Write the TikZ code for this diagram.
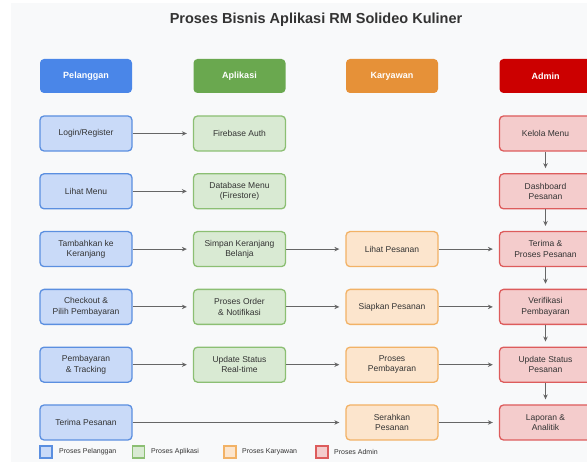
\documentclass[tikz,border=0pt]{standalone}
\usepackage{fontspec}
\setmainfont{Liberation Sans}
\usetikzlibrary{arrows.meta}
\definecolor{bgc}{HTML}{F8F9FA}
\definecolor{txt}{HTML}{333333}
\definecolor{hblue}{HTML}{4A86E8}
\definecolor{hgreen}{HTML}{6AA84F}
\definecolor{horange}{HTML}{E69138}
\definecolor{hred}{HTML}{CC0000}
\definecolor{fblue}{HTML}{C9DAF8}
\definecolor{dblue}{HTML}{5B8FE0}
\definecolor{fgreen}{HTML}{D9EAD3}
\definecolor{dgreen}{HTML}{8CBF73}
\definecolor{forange}{HTML}{FCE5CD}
\definecolor{dorange}{HTML}{F2B266}
\definecolor{fred}{HTML}{F4CCCC}
\definecolor{dred}{HTML}{DD5C5C}
\definecolor{arr}{HTML}{666666}
\tikzset{
  hdr/.style={rounded corners=4pt, minimum width=92pt, minimum height=34pt, text=white,
    font=\fontsize{9}{11}\selectfont\bfseries, inner sep=0pt},
  proc/.style={rounded corners=4pt, minimum width=92pt, minimum height=35pt, text=txt,
    font=\fontsize{8.5}{10.5}\selectfont, align=center, line width=1.3pt, inner sep=0pt},
  pbox/.style={proc, draw=dblue, fill=fblue},
  abox/.style={proc, draw=dgreen, fill=fgreen},
  kbox/.style={proc, draw=dorange, fill=forange},
  rbox/.style={proc, draw=dred, fill=fred},
  conn/.style={draw=arr, line width=1.1pt, -{Stealth[length=5pt,width=4.5pt]}, shorten >=6pt},
  vconn/.style={draw=arr, line width=1.1pt, -{Stealth[length=5pt,width=4.5pt]}, shorten >=5pt},
  lsq/.style={minimum width=12pt, minimum height=12pt, line width=1.2pt, inner sep=0pt},
  ltxt/.style={anchor=west, text=txt, font=\fontsize{7}{8}\selectfont, inner sep=0pt}
}
\begin{document}
\begin{tikzpicture}[x=1pt,y=-1pt]
\useasboundingbox (0,0) rectangle (587,462);
\fill[white] (0,0) rectangle (587,462);
\fill[bgc] (11,3) rectangle (590,465);
\node[text=txt, font=\fontsize{14.5}{16}\selectfont\bfseries] (title) at (316,20) {Proses Bisnis Aplikasi RM Solideo Kuliner};
% headers
\node[hdr, fill=hblue] (h1) at (86,76) {Pelanggan};
\node[hdr, fill=hgreen] (h2) at (239.5,76) {Aplikasi};
\node[hdr, fill=horange] (h3) at (392,76) {Karyawan};
\node[hdr, fill=hred] (h4) at (545.5,76) {Admin};
% Pelanggan
\node[pbox] (p1) at (86,133.5) {Login/Register};
\node[pbox] (p2) at (86,191.3) {Lihat Menu};
\node[pbox] (p3) at (86,249.1) {Tambahkan ke\\Keranjang};
\node[pbox] (p4) at (86,306.9) {Checkout \&\\Pilih Pembayaran};
\node[pbox] (p5) at (86,364.7) {Pembayaran\\\& Tracking};
\node[pbox] (p6) at (86,422.5) {Terima Pesanan};
% Aplikasi
\node[abox] (a1) at (239.5,133.5) {Firebase Auth};
\node[abox] (a2) at (239.5,191.3) {Database Menu\\(Firestore)};
\node[abox] (a3) at (239.5,249.1) {Simpan Keranjang\\Belanja};
\node[abox] (a4) at (239.5,306.9) {Proses Order\\\& Notifikasi};
\node[abox] (a5) at (239.5,364.7) {Update Status\\Real-time};
% Karyawan
\node[kbox] (k3) at (392,249.1) {Lihat Pesanan};
\node[kbox] (k4) at (392,306.9) {Siapkan Pesanan};
\node[kbox] (k5) at (392,364.7) {Proses\\Pembayaran};
\node[kbox] (k6) at (392,422.5) {Serahkan\\Pesanan};
% Admin
\node[rbox] (r1) at (545.5,133.5) {Kelola Menu};
\node[rbox] (r2) at (545.5,191.3) {Dashboard\\Pesanan};
\node[rbox] (r3) at (545.5,249.1) {Terima \&\\Proses Pesanan};
\node[rbox] (r4) at (545.5,306.9) {Verifikasi\\Pembayaran};
\node[rbox] (r5) at (545.5,364.7) {Update Status\\Pesanan};
\node[rbox] (r6) at (545.5,422.5) {Laporan \&\\Analitik};
% horizontal connectors
\draw[conn] (p1) -- (a1);
\draw[conn] (p2) -- (a2);
\draw[conn] (p3) -- (a3);
\draw[conn] (a3) -- (k3);
\draw[conn] (k3) -- (r3);
\draw[conn] (p4) -- (a4);
\draw[conn] (a4) -- (k4);
\draw[conn] (k4) -- (r4);
\draw[conn] (p5) -- (a5);
\draw[conn] (a5) -- (k5);
\draw[conn] (k5) -- (r5);
\draw[conn] (p6) -- (k6);
\draw[conn] (k6) -- (r6);
% vertical admin connectors
\draw[vconn] (r1) -- (r2);
\draw[vconn] (r2) -- (r3);
\draw[vconn] (r3) -- (r4);
\draw[vconn] (r4) -- (r5);
\draw[vconn] (r5) -- (r6);
% legend
\node[lsq, draw=dblue, fill=fblue] (l1) at (46,452) {};
\node[ltxt] (lt1) at (59,452) {Proses Pelanggan};
\node[lsq, draw=dgreen, fill=fgreen] (l2) at (138.5,452) {};
\node[ltxt] (lt2) at (151,452) {Proses Aplikasi};
\node[lsq, draw=dorange, fill=forange] (l3) at (230,452) {};
\node[ltxt] (lt3) at (242,452) {Proses Karyawan};
\node[lsq, draw=dred, fill=fred] (l4) at (322,452) {};
\node[ltxt] (lt4) at (334,452) {Proses Admin};
\end{tikzpicture}
\end{document}
